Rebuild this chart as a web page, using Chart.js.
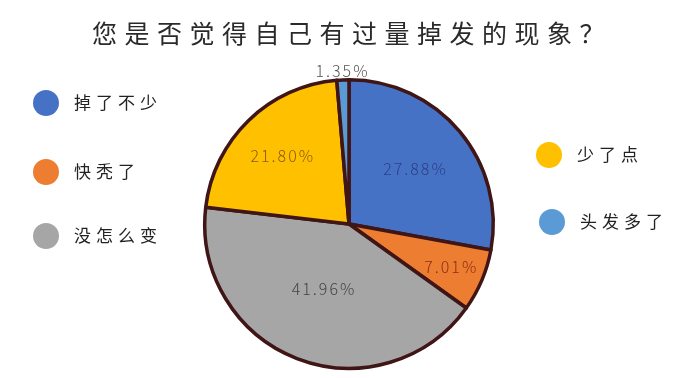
<!DOCTYPE html>
<html>
<head>
<meta charset="utf-8">
<script src="https://cdn.jsdelivr.net/npm/chart.js@4"></script>
<style>
  html, body { margin: 0; padding: 0; background: #fff; }
  #wrap { position: relative; width: 695px; height: 378px; }
</style>
</head>
<body>
<div id="wrap"><canvas id="hair" width="695" height="378"></canvas></div>
<script>
const title = '您是否觉得自己有过量掉发的现象？';
const labels = ['掉了不少', '快秃了', '没怎么变', '少了点', '头发多了'];
const values = [27.88, 7.01, 41.96, 21.80, 1.35];

const colors = ['#4672c6', '#ed7d31', '#a6a6a6', '#ffc000', '#5b9bd5'];
const textColors = ['#2b3f86', '#8a2f14', '#444444', '#8a5a10', '#555555'];
// how far out (fraction of radius) each percentage sits
const labelRadius = [0.6, 0.77, 0.48, 0.66, 1.06];
// legend: column x, row y
const legendPos = [[46, 103], [46, 172], [46, 236], [549, 155], [552, 222]];

const hand = '"Noto Sans CJK SC", "Noto Sans", sans-serif';

const extras = {
  id: 'extras',
  afterDraw(chart) {
    const ctx = chart.ctx;
    ctx.save();
    ctx.textBaseline = 'middle';

    // title
    ctx.fillStyle = '#2a2a2a';
    ctx.font = '400 25px ' + hand;
    ctx.letterSpacing = '7.5px';
    ctx.textAlign = 'center';
    ctx.fillText(title, 352, 33);

    // percentages
    const arcs = chart.getDatasetMeta(0).data;
    ctx.font = '300 16px ' + hand;
    ctx.letterSpacing = '2px';
    arcs.forEach((arc, i) => {
      const mid = (arc.startAngle + arc.endAngle) / 2;
      const r = arc.outerRadius * labelRadius[i];
      ctx.fillStyle = textColors[i];
      ctx.fillText(values[i].toFixed(2) + '%', arc.x + Math.cos(mid) * r, arc.y + Math.sin(mid) * r);
    });

    // legend
    ctx.textAlign = 'left';
    ctx.font = '400 17px ' + hand;
    ctx.letterSpacing = '5px';
    labels.forEach((lab, i) => {
      const [x, y] = legendPos[i];
      ctx.beginPath();
      ctx.arc(x, y, 13, 0, Math.PI * 2);
      ctx.fillStyle = colors[i];
      ctx.fill();
      ctx.fillStyle = '#222';
      ctx.fillText(lab, x + 28, y);
    });
    ctx.restore();
  }
};

new Chart(document.getElementById('hair'), {
  type: 'pie',
  data: {
    labels: labels,
    datasets: [{
      data: values,
      backgroundColor: colors,
      borderColor: '#401515',
      borderWidth: 3.5,
      borderJoinStyle: 'round'
    }]
  },
  options: {
    responsive: false,
    animation: false,
    rotation: 0,
    layout: { padding: { top: 78, bottom: 8, left: 3, right: 0 } },
    plugins: {
      legend: { display: false },
      tooltip: { enabled: false }
    }
  },
  plugins: [extras]
});
</script>
</body>
</html>
